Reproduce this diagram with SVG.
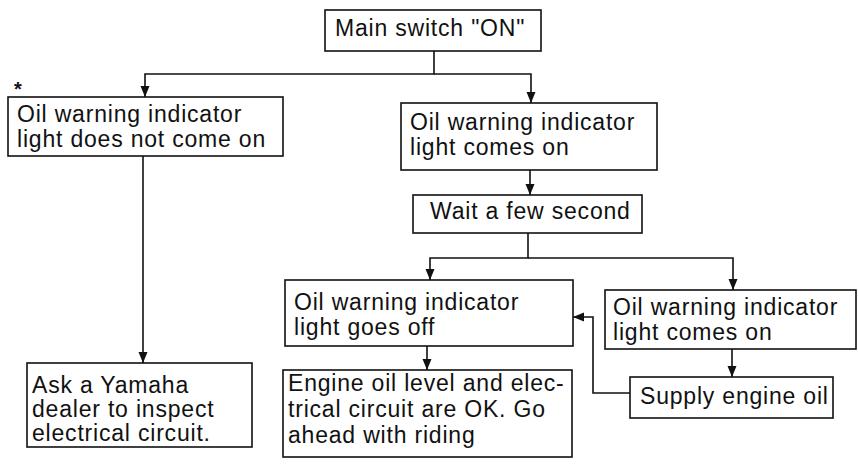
<svg xmlns="http://www.w3.org/2000/svg" width="858" height="464" viewBox="0 0 858 464">
<style>
  .box { fill: #fff; stroke: #111; stroke-width: 1.6; }
  .t { font-family: "Liberation Sans", Arial, sans-serif; font-size: 23px; letter-spacing: 0.8px; fill: #111; }
  .c { fill: none; stroke: #111; stroke-width: 1.6; marker-end: url(#ah); }
</style>
<defs>
  <marker id="ah" markerUnits="userSpaceOnUse" markerWidth="12" markerHeight="12" viewBox="0 0 12 12" refX="11" refY="6" orient="auto">
    <path d="M0,1.5 L11,6 L0,10.5 Z" fill="#111"/>
  </marker>
</defs>
<rect width="858" height="464" fill="#fff"/>
<g id="connectors">
  <path class="c" d="M434,51 V74 H145 V97"/>
  <path class="c" d="M434,74 H531 V103"/>
  <path class="c" d="M143,156 V363"/>
  <path class="c" d="M530,170 V195"/>
  <path class="c" d="M528,233 V258 H430 V280"/>
  <path class="c" d="M528,258 H733 V290"/>
  <path class="c" d="M427,346 V370"/>
  <path class="c" d="M732,349 V377"/>
  <path class="c" d="M630,393 H593 V317 H573"/>
</g>
<g id="main">
  <rect class="box" x="325" y="10" width="216" height="41"/>
  <text class="t" x="335" y="36">Main switch "ON"</text>
</g>
<g id="not-on">
  <text class="t" x="14" y="96" style="font-size:20px;font-weight:bold">*</text>
  <rect class="box" x="8" y="97" width="275" height="59"/>
  <text class="t" x="17" y="122">Oil warning indicator</text>
  <text class="t" x="17" y="147">light does not come on</text>
</g>
<g id="comes-on">
  <rect class="box" x="401" y="103" width="256" height="67"/>
  <text class="t" x="410" y="130">Oil warning indicator</text>
  <text class="t" x="410" y="155">light comes on</text>
</g>
<g id="wait">
  <rect class="box" x="413" y="195" width="229" height="38"/>
  <text class="t" x="430" y="219">Wait a few second</text>
</g>
<g id="goes-off">
  <rect class="box" x="285" y="280" width="288" height="66"/>
  <text class="t" x="294" y="310">Oil warning indicator</text>
  <text class="t" x="294" y="335">light goes off</text>
</g>
<g id="comes-on-2">
  <rect class="box" x="605" y="290" width="251" height="59"/>
  <text class="t" x="613" y="315">Oil warning indicator</text>
  <text class="t" x="613" y="340">light comes on</text>
</g>
<g id="supply">
  <rect class="box" x="630" y="377" width="203" height="41"/>
  <text class="t" x="640" y="404">Supply engine oil</text>
</g>
<g id="ok">
  <rect class="box" x="283" y="370" width="289" height="87"/>
  <text class="t" x="288" y="391">Engine oil level and elec-</text>
  <text class="t" x="288" y="417">trical circuit are OK. Go</text>
  <text class="t" x="288" y="443">ahead with riding</text>
</g>
<g id="ask">
  <rect class="box" x="27" y="363" width="225" height="84"/>
  <text class="t" x="32" y="393">Ask a Yamaha</text>
  <text class="t" x="32" y="417">dealer to inspect</text>
  <text class="t" x="32" y="441">electrical circuit.</text>
</g>
</svg>
